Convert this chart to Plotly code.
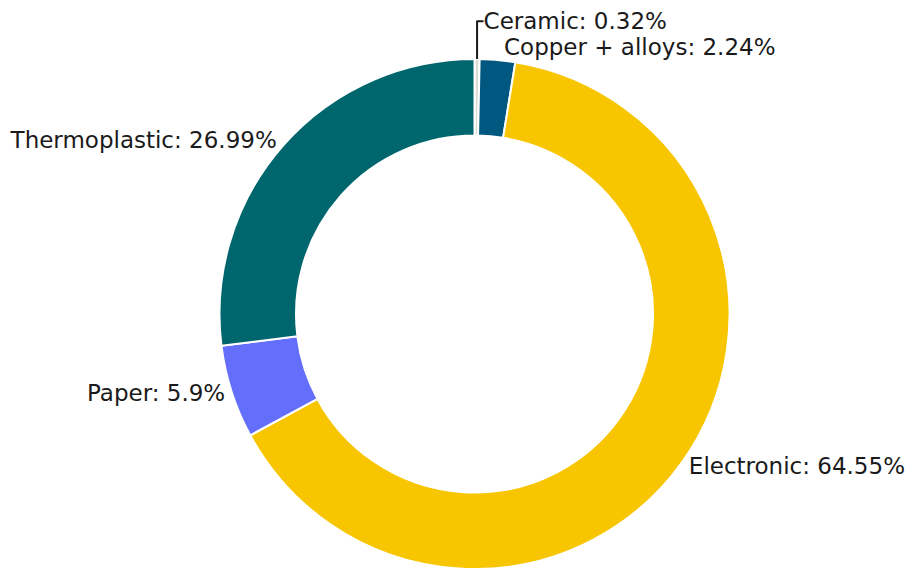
import plotly.graph_objects as go

labels = ["Ceramic", "Copper + alloys", "Electronic", "Paper", "Thermoplastic"]
values = [0.32, 2.24, 64.55, 5.9, 26.99]
colors = ["#dcdcd6", "#005780", "#f7c600", "#636efa", "#00666e"]

fig = go.Figure(go.Pie(
    labels=labels,
    values=values,
    hole=0.7,
    sort=False,
    direction="clockwise",
    rotation=0,
    automargin=False,
    textposition="outside",
    texttemplate="%{label}: %{value}%",
    textfont=dict(family="DejaVu Sans", size=23, color="#1a1a1a"),
    marker=dict(colors=colors, line=dict(color="white", width=2)),
    showlegend=False,
))
fig.update_layout(
    width=912, height=569,
    margin=dict(l=37, r=0, t=59, b=0, autoexpand=False),
    paper_bgcolor="white",
    plot_bgcolor="white",
)
fig.write_html(
    "out.html",
    config={"displayModeBar": False},
    post_script="document.body.style.margin='0';document.body.style.overflow='hidden';",
)
